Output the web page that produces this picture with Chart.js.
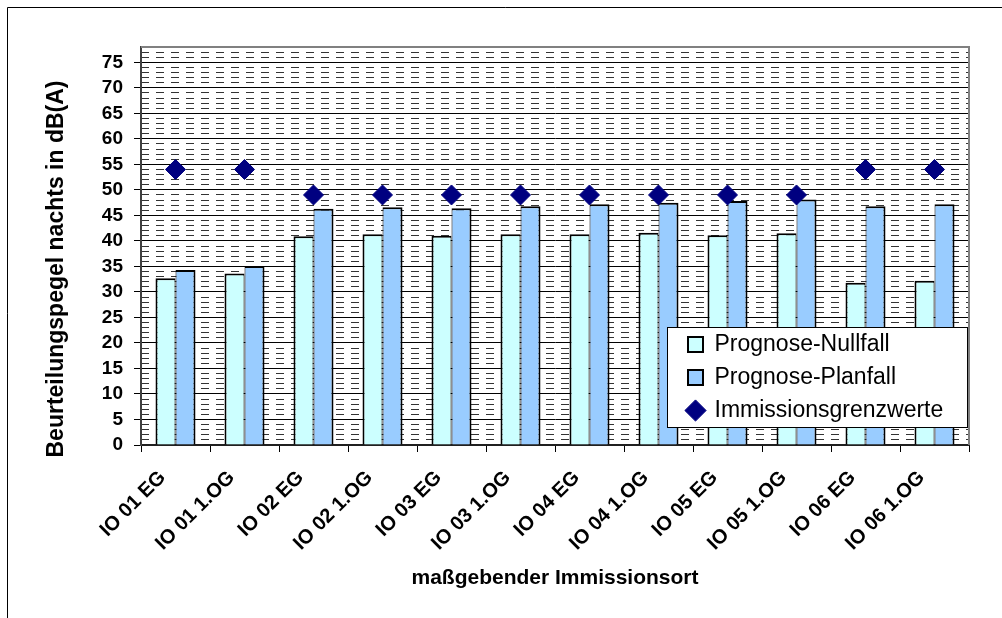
<!DOCTYPE html>
<html lang="de">
<head>
<meta charset="utf-8">
<title>Beurteilungspegel nachts</title>
<script src="https://cdn.jsdelivr.net/npm/chart.js@4.4.1/dist/chart.umd.min.js"></script>
<style>
  html, body { margin: 0; padding: 0; background: #fff; overflow: hidden; }
  canvas { display: block; }
</style>
</head>
<body>
<canvas id="chart" width="1002" height="618"></canvas>
<script>
// Immission points (x axis)
const categories = [
  'IO 01 EG', 'IO 01 1.OG', 'IO 02 EG', 'IO 02 1.OG', 'IO 03 EG', 'IO 03 1.OG',
  'IO 04 EG', 'IO 04 1.OG', 'IO 05 EG', 'IO 05 1.OG', 'IO 06 EG', 'IO 06 1.OG'
];

// Rating levels at night in dB(A)
const nullfall = [32.7, 33.6, 40.9, 41.3, 41.0, 41.3, 41.3, 41.6, 41.1, 41.5, 31.8, 32.2];
const planfall = [34.3, 35.1, 46.3, 46.6, 46.4, 46.8, 47.2, 47.5, 47.8, 48.1, 46.8, 47.2];
const grenzwerte = [54, 54, 49, 49, 49, 49, 49, 49, 49, 49, 54, 54];

// Series names
const seriesNames = ['Prognose-Nullfall', 'Prognose-Planfall', 'Immissionsgrenzwerte'];

// Axis titles and value range
const yTitle = 'Beurteilungspegel nachts in dB(A)';
const xTitle = 'maßgebender Immissionsort';
const yMin = 0;
const yMax = 78;
const yMajorStep = 5;
const yMinorStep = 1;

const FONT = '"Liberation Sans", Arial, Helvetica, sans-serif';

// White page, outer frame and the grey plot-area frame
const framePlugin = {
  id: 'frame',
  beforeDraw(chart) {
    const c = chart.ctx;
    c.save();
    c.fillStyle = '#fff';
    c.fillRect(0, 0, chart.width, chart.height);
    c.restore();
  },
  beforeDatasetsDraw(chart) {
    const { left, top, right, bottom } = chart.chartArea;
    const c = chart.ctx;
    c.save();
    c.strokeStyle = '#808080';
    c.lineWidth = 2;
    c.beginPath();
    c.moveTo(left, top);
    c.lineTo(right, top);
    c.lineTo(right, bottom);
    c.stroke();
    c.restore();
  },
  afterDraw(chart) {
    const c = chart.ctx;
    c.save();
    c.strokeStyle = '#000';
    c.lineWidth = 1;
    c.beginPath();
    c.moveTo(7.5, chart.height + 2);
    c.lineTo(7.5, 7.5);
    c.lineTo(chart.width + 2, 7.5);
    c.stroke();
    c.restore();
  }
};

// Legend box placed inside the plot area, drawn above the bars
const LEGEND_BOX = { left: 667, top: 327, right: 967, bottom: 427 };
const legendInPlot = {
  id: 'legendInPlot',
  beforeLayout(chart) {
    const lg = chart.legend;
    if (!lg || lg._inPlot) return;
    lg._inPlot = true;
    const fit = lg.fit;
    lg.fit = function () {
      fit.call(this);
      this._boxW = this.width;
      this._boxH = this.height;
      this.width = 0;
    };
    lg._layers = function () {
      return [{
        z: 10,
        draw: (area) => {
          const c = chart.ctx;
          c.save();
          c.fillStyle = '#fff';
          c.fillRect(LEGEND_BOX.left, LEGEND_BOX.top, LEGEND_BOX.right - LEGEND_BOX.left, LEGEND_BOX.bottom - LEGEND_BOX.top);
          c.strokeStyle = '#000';
          c.lineWidth = 1;
          c.strokeRect(LEGEND_BOX.left + 0.5, LEGEND_BOX.top + 0.5, LEGEND_BOX.right - LEGEND_BOX.left, LEGEND_BOX.bottom - LEGEND_BOX.top);
          c.restore();
          this.draw(area);
        }
      }];
    };
  },
  afterLayout(chart) {
    const lg = chart.legend;
    if (!lg) return;
    lg.width = lg._boxW;
    lg.height = lg._boxH;
    lg.left = 678;
    lg.top = 323;
    lg.right = lg.left + lg.width;
    lg.bottom = lg.top + lg.height;
    lg.adjustHitBoxes();

    // the vertical axis title sits a little below the plot centre
    const s = chart.scales.y;
    if (s && !s._titleShifted) {
      const drawTitle = s.drawTitle;
      s.drawTitle = function () {
        this.ctx.save();
        this.ctx.translate(0, 23);
        drawTitle.call(this);
        this.ctx.restore();
      };
      s._titleShifted = true;
    }
  }
};

const isMajor = (v) => Math.abs(v / yMajorStep - Math.round(v / yMajorStep)) < 1e-9;

const chart = new Chart(document.getElementById('chart'), {
  type: 'bar',
  data: {
    labels: categories,
    datasets: [
      {
        label: seriesNames[0],
        data: nullfall,
        backgroundColor: '#CCFFFF',
        borderColor: '#000',
        borderWidth: { top: 2, left: 2, right: 1, bottom: 0 },
        borderSkipped: false,
        categoryPercentage: 0.58,
        barPercentage: 1.0,
        order: 2
      },
      {
        label: seriesNames[1],
        data: planfall,
        backgroundColor: '#99CCFF',
        borderColor: '#000',
        borderWidth: { top: 2, left: 1, right: 2, bottom: 0 },
        borderSkipped: false,
        categoryPercentage: 0.58,
        barPercentage: 1.0,
        order: 2
      },
      {
        type: 'line',
        label: seriesNames[2],
        data: grenzwerte,
        showLine: false,
        pointStyle: 'rectRot',
        pointRadius: 10,
        pointHoverRadius: 10,
        pointBackgroundColor: '#000080',
        pointBorderColor: '#000080',
        pointBorderWidth: 1,
        backgroundColor: '#000080',
        borderColor: '#000080',
        order: 1
      }
    ]
  },
  options: {
    responsive: false,
    animation: false,
    events: [],
    layout: { padding: { left: 0, top: 47, right: 33, bottom: 0 } },
    plugins: {
      tooltip: { enabled: false },
      legend: {
        position: 'right',
        align: 'start',
        maxWidth: 400,
        labels: {
          usePointStyle: true,
          boxWidth: 15,
          boxHeight: 15,
          padding: 10,
          color: '#000',
          font: { family: FONT, size: 23 },
          sort: (a, b) => a.datasetIndex - b.datasetIndex,
          generateLabels(ch) {
            const items = Chart.defaults.plugins.legend.labels.generateLabels(ch);
            items.forEach((it) => {
              const ds = ch.data.datasets[it.datasetIndex];
              if (ds.type === 'line') {
                it.pointStyle = 'rectRot';
                it.lineWidth = 1;
                it.fillStyle = '#000080';
                it.strokeStyle = '#000080';
              } else {
                it.pointStyle = 'rect';
                it.lineWidth = 2;
                it.strokeStyle = '#000';
              }
            });
            return items;
          }
        }
      }
    },
    scales: {
      x: {
        type: 'category',
        offset: true,
        afterFit(scale) { scale.height = 173; },
        grid: {
          display: true,
          offset: true,
          drawOnChartArea: false,
          drawTicks: true,
          tickLength: 7,
          tickColor: '#000',
          tickWidth: 1
        },
        border: { display: true, color: '#202020', width: 2 },
        ticks: {
          autoSkip: false,
          minRotation: 45,
          maxRotation: 45,
          padding: 14,
          labelOffset: -13,
          color: '#000',
          font: { family: FONT, size: 20, weight: 'bold' }
        },
        title: {
          display: true,
          text: xTitle,
          color: '#000',
          font: { family: FONT, size: 21, weight: 'bold' },
          padding: { top: 0, bottom: 27 }
        }
      },
      y: {
        type: 'linear',
        position: 'left',
        min: yMin,
        max: yMax,
        bounds: 'data',
        weight: 1,
        afterFit(scale) { scale.width = 141; },
        grid: {
          color: (ctx) => (ctx.tick && isMajor(ctx.tick.value) && ctx.tick.value > yMin) ? '#000' : 'rgba(0,0,0,0)',
          lineWidth: 1,
          drawTicks: true,
          tickLength: 7,
          tickColor: (ctx) => (ctx.tick && isMajor(ctx.tick.value)) ? '#000' : 'rgba(0,0,0,0)'
        },
        border: { display: true, color: '#404040', width: 2 },
        ticks: {
          stepSize: yMajorStep,
          autoSkip: false,
          padding: 11,
          color: '#000',
          font: { family: FONT, size: 19, weight: 'bold' },
          callback: (v) => isMajor(v) ? String(v) : ''
        },
        title: {
          display: true,
          text: yTitle,
          color: '#000',
          font: { family: FONT, size: 23, weight: 'bold' },
          padding: { top: 43, bottom: 0 }
        }
      },
      yMinor: {
        type: 'linear',
        position: 'left',
        min: yMin,
        max: yMax,
        bounds: 'data',
        weight: 0,
        afterFit(scale) { scale.width = 0; },
        grid: {
          color: (ctx) => (ctx.tick && !isMajor(ctx.tick.value) && ctx.tick.value < yMax) ? '#333' : 'rgba(0,0,0,0)',
          lineWidth: 1,
          drawTicks: false
        },
        border: { display: false, dash: [8, 7] },
        ticks: { display: false, stepSize: yMinorStep }
      }
    }
  },
  plugins: [framePlugin, legendInPlot]
});
</script>
</body>
</html>
